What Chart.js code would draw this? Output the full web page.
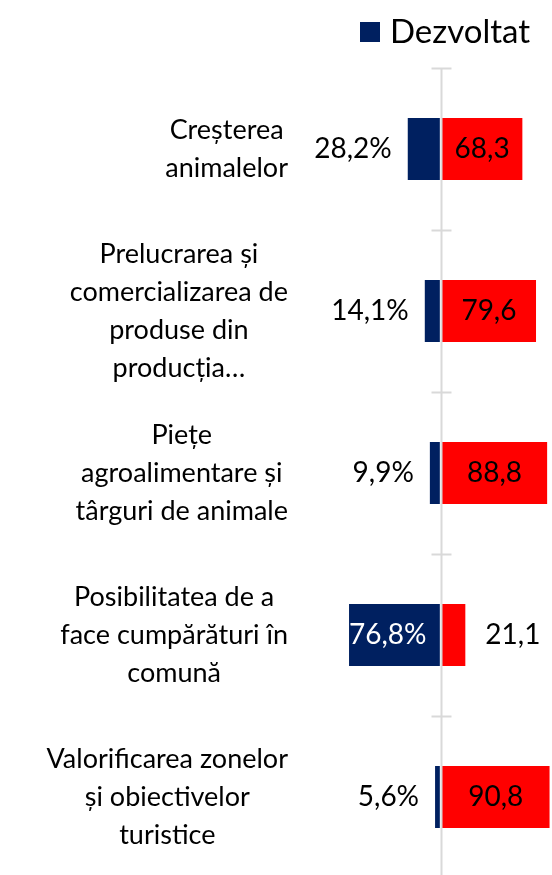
<!DOCTYPE html>
<html>
<head>
<meta charset="utf-8">
<script src="https://cdn.jsdelivr.net/npm/chart.js@4.4.1/dist/chart.umd.min.js"></script>
<style>
  html, body { margin: 0; padding: 0; background: #fff; overflow: hidden; }
</style>
</head>
<body>
<canvas id="dataChart" width="552" height="880"></canvas>
<script>
// chart values
var categories = [
  ['Creșterea', 'animalelor'],
  ['Prelucrarea și', 'comercializarea de', 'produse din', 'producția…'],
  ['Piețe', 'agroalimentare și', 'târguri de animale'],
  ['Posibilitatea de a', 'face cumpărături în', 'comună'],
  ['Valorificarea zonelor', 'și obiectivelor', 'turistice']
];
var dezvoltat = [28.2, 14.1, 9.9, 76.8, 5.6];
var nedezvoltat = [68.3, 79.6, 88.8, 21.1, 90.8];

var NAVY = '#002060';
var RED = '#ff0000';
var FONT = 'Lato, "Noto Sans", sans-serif';

function fmt(v) {
  return Math.abs(v).toFixed(1).replace('.', ',');
}

// legend, category labels, axis line with cross ticks, bar value labels
var drawExtras = {
  id: 'drawExtras',
  afterDatasetsDraw: function(chart) {
    var ctx = chart.ctx;
    var xs = chart.scales.x, ys = chart.scales.y;
    var area = chart.chartArea;
    var x0 = Math.round(xs.getPixelForValue(0)) + 0.5;

    ctx.save();
    // legend (only first series is visible in the picture)
    ctx.fillStyle = NAVY;
    ctx.fillRect(360, 22, 20, 20);
    ctx.fillStyle = '#000';
    ctx.font = '33px ' + FONT;
    ctx.textAlign = 'left';
    ctx.textBaseline = 'middle';
    ctx.fillText(chart.data.datasets[0].label, 390, 32);

    // axis line
    ctx.strokeStyle = '#d9d9d9';
    ctx.lineWidth = 2;
    ctx.beginPath();
    ctx.moveTo(x0, area.top);
    ctx.lineTo(x0, area.bottom);
    // ticks at category borders
    var step = ys.getPixelForValue(1) - ys.getPixelForValue(0);
    for (var i = 0; i <= categories.length; i++) {
      var yb = Math.round(ys.getPixelForValue(i) - step / 2) + 0.5;
      ctx.moveTo(x0 - 10, yb);
      ctx.lineTo(x0 + 10, yb);
    }
    ctx.stroke();

    // category labels: block right aligned, lines centered
    ctx.font = '27px ' + FONT;
    ctx.fillStyle = '#000';
    ctx.textAlign = 'center';
    var lineH = 38;
    var rightEdge = 288;
    categories.forEach(function(lines, i) {
      var maxW = 0;
      lines.forEach(function(l) { maxW = Math.max(maxW, ctx.measureText(l).width); });
      var cx = rightEdge - maxW / 2;
      var cy = ys.getPixelForValue(i);
      var start = cy - (lines.length - 1) * lineH / 2;
      lines.forEach(function(l, k) {
        ctx.fillText(l, cx, start + k * lineH);
      });
    });

    // value labels
    ctx.font = '28px ' + FONT;
    var m0 = chart.getDatasetMeta(0), m1 = chart.getDatasetMeta(1);
    m0.data.forEach(function(bar, i) {
      var left = Math.min(bar.x, bar.base);
      if (dezvoltat[i] > 50) {
        ctx.fillStyle = '#fff';
        ctx.textAlign = 'left';
        ctx.fillText(fmt(dezvoltat[i]) + '%', left + 1, bar.y);
      } else {
        ctx.fillStyle = '#000';
        ctx.textAlign = 'right';
        ctx.fillText(fmt(dezvoltat[i]) + '%', left - 15, bar.y);
      }
    });
    m1.data.forEach(function(bar, i) {
      var l = Math.min(bar.x, bar.base), r = Math.max(bar.x, bar.base);
      ctx.fillStyle = '#000';
      if (nedezvoltat[i] > 50) {
        ctx.textAlign = 'center';
        ctx.fillText(fmt(nedezvoltat[i]), (l + r) / 2, bar.y);
      } else {
        ctx.textAlign = 'left';
        ctx.fillText(fmt(nedezvoltat[i]), r + 19, bar.y);
      }
    });
    ctx.restore();
  }
};

function createChart() {
  var ctx = document.getElementById('dataChart');
  var myChart = new Chart(ctx, {
    type: 'bar',
    data: {
      labels: categories,
      datasets: [{
          label: 'Dezvoltat',
          data: dezvoltat.map(function(v) { return -v; }),
          backgroundColor: NAVY,
          borderColor: '#ffffff',
          borderWidth: 1,
          borderSkipped: false,
          barPercentage: 0.395,
          categoryPercentage: 1
        },
        {
          label: 'Nedezvoltat',
          data: nedezvoltat,
          backgroundColor: RED,
          borderColor: '#ffffff',
          borderWidth: 1,
          borderSkipped: false,
          barPercentage: 0.395,
          categoryPercentage: 1
      }]
    },
    options: {
      indexAxis: 'y',
      responsive: false,
      animation: false,
      layout: { padding: { left: 320, right: 0, top: 68, bottom: 2 } },
      plugins: {
        tooltip: { enabled: false },
        legend: { display: false }
      },
      scales: {
        x: {
          stacked: true,
          min: -100,
          max: 92,
          display: false
        },
        y: {
          stacked: true,
          display: false
        }
      }
    },
    plugins: [drawExtras]
  });
}

createChart();
</script>
</body>
</html>
